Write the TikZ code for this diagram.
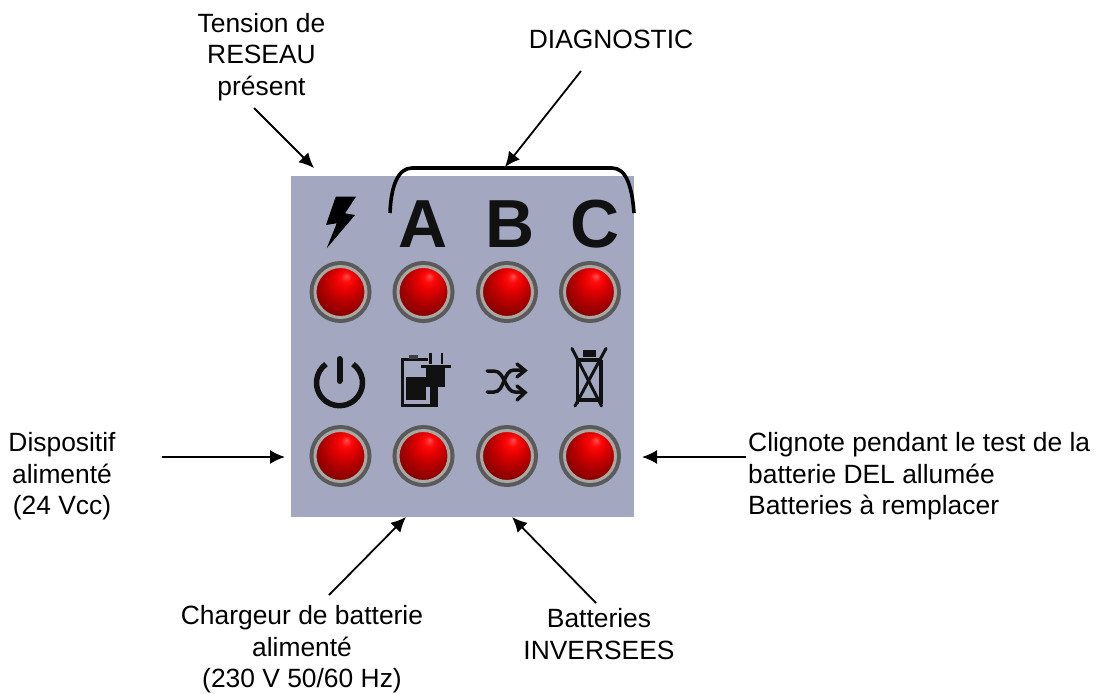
\documentclass[tikz,border=0pt]{standalone}
\usepackage{fontspec}
\setmainfont{Liberation Sans}
\usetikzlibrary{arrows.meta}
\tikzset{>={Latex[width=14pt,length=15pt]}}
\definecolor{panelblue}{HTML}{A3A8C0}
\definecolor{ringdark}{HTML}{5A5A5A}
\definecolor{ringlight}{HTML}{A8A8A4}
\definecolor{icondark}{HTML}{111111}
\pgfdeclareradialshading{ledball}{\pgfpoint{6bp}{16bp}}{
  rgb(0bp)=(1,0.32,0.32); rgb(5bp)=(1,0.04,0.04); rgb(11bp)=(0.9,0,0);
  rgb(20bp)=(0.7,0,0); rgb(30bp)=(0.52,0,0); rgb(38bp)=(0.25,0,0); rgb(50bp)=(0.1,0,0)}
\tikzset{
  txt/.style={font=\fontsize{26.4}{31.5}\selectfont, align=center, inner sep=0pt},
  letter/.style={font=\fontsize{68}{68}\selectfont\bfseries, text=icondark, inner sep=0pt, anchor=base},
  led/.style={circle, minimum size=51pt, inner sep=0pt, outer sep=0pt, shading=ledball,
    draw=ringlight, line width=3pt, preaction={draw=ringdark, line width=11pt}},
  callout/.style={->, line width=1.8pt},
  icon/.style={icondark, line width=3.5pt},
}

\begin{document}
\begin{tikzpicture}[x=1pt,y=-1pt]
\useasboundingbox (0,0) rectangle (1097,693);

\node[fill=panelblue, minimum width=343pt, minimum height=341pt, inner sep=0pt, outer sep=0pt] (panel) at (462.5,346.5) {};

% top row
\node[led] (ledP) at (340.5,292) {};
\node[led] (ledA) at (423.5,292) {};
\node[led] (ledB) at (507,292) {};
\node[led] (ledC) at (590,292) {};

% bottom row
\node[led] (ledOn) at (340.5,456) {};
\node[led] (ledCh) at (423.5,456) {};
\node[led] (ledRv) at (507,456) {};
\node[led] (ledBt) at (590,456) {};

\node[letter] (letA) at (423,247.3) {A};
\node[letter] (letB) at (510,247.3) {B};
\node[letter] (letC) at (595.5,247.3) {C};

% mains flash
\fill[black] (335.7,196.7) -- (356,196.7) -- (345,213.3) -- (355,215) -- (326.7,248.3)
  -- (336.7,223.3) -- (326,225) -- cycle;

% power
\coordinate (pw) at (339.5,382.7);
\draw[icon, line width=5.5pt] ([shift={(54:23pt)}]pw) arc[start angle=54, end angle=-234, radius=23pt];
\draw[icon, line width=6pt, line cap=round] (339.5,359) -- (339.5,381);

% charger
\draw[icon, line width=3pt] (428,359) -- (402,359) -- (402,405) -- (430,405);
\fill[icondark] (405.7,377.3) rectangle (426,400);
\fill[icondark!70!panelblue] (409.3,355) rectangle (418.3,358.5);
\fill[icondark] (425.7,368) rectangle (445,387);
\fill[icondark] (420.7,365) rectangle (451,367.7);
\fill[icondark] (429,353) rectangle (431.5,364);
\fill[icondark] (440.5,353) rectangle (443,364);
\fill[icondark] (430,387) rectangle (438.3,407.3);

% shuffle
\draw[icon, line cap=round] (487,371) -- (494,371) .. controls (505,371) and (505,392) .. (515,392) -- (524,392);
\draw[icon, line cap=round] (487,392) -- (494,392) .. controls (505,392) and (503,370) .. (514,370) -- (524,370);
\draw[icon, line cap=round, line join=miter] (517,364) -- (525,370.5) -- (517,377);
\draw[icon, line cap=round, line join=miter] (517,386) -- (525,392.5) -- (517,400);

% battery out
\fill[icondark] (582.7,350) rectangle (596,356.7);
\draw[icon] (577.5,360) -- (577.5,404);
\draw[icon] (601,360) -- (601,404);
\draw[icon] (577,360) -- (601.5,360);
\draw[icon] (576,400) -- (603,400);
\draw[icon, line width=3pt, line cap=round] (572,348.5) -- (601.5,406);
\draw[icon, line width=3pt, line cap=round] (606,348.5) -- (575,406);

% labels
\node[txt] (tension) at (261.5,57) {Tension de\\RESEAU\\présent};
\node[txt] (diag) at (611,39.5) {DIAGNOSTIC};
\node[txt] (dispo) at (62,476.5) {Dispositif\\alimenté\\(24 Vcc)};
\node[txt, align=left, anchor=west] (clign) at (748,476.5) {Clignote pendant le test de la\\batterie DEL allumée\\Batteries à remplacer};
\node[txt] (chargeur) at (302,649.5) {Chargeur de batterie\\alimenté\\(230 V 50/60 Hz)};
\node[txt] (invers) at (599,634) {Batteries\\INVERSEES};

\coordinate (tensionA) at (254,108);
\coordinate (tensionB) at (314,168);
\coordinate (diagA) at (581,71);
\coordinate (diagB) at (505,167);
\coordinate (dispoA) at (162,457);
\coordinate (dispoB) at (285,457);
\coordinate (clignA) at (746,457);
\coordinate (clignB) at (642,457);
\coordinate (chargeurA) at (329,595);
\coordinate (chargeurB) at (406,517);
\coordinate (inversA) at (596,603);
\coordinate (inversB) at (512,517);

\draw[callout] (tensionA) -- (tensionB);
\draw[callout] (diagA) -- (diagB);
\draw[callout] (dispoA) -- (dispoB);
\draw[callout] (clignA) -- (clignB);
\draw[callout] (chargeurA) -- (chargeurB);
\draw[callout] (inversA) -- (inversB);

% bracket over letters
\draw[line width=3.6pt] (390,213) .. controls (391,186) and (398,168) .. (412,168)
  -- (612,168) .. controls (626,168) and (632,186) .. (634,213);
\end{tikzpicture}
\end{document}
